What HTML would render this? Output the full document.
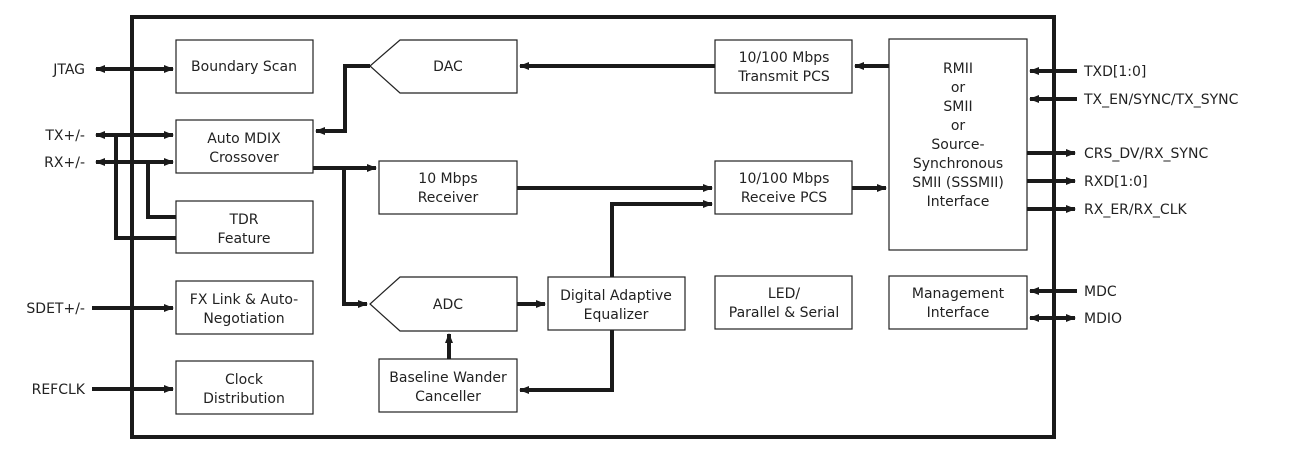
<!DOCTYPE html>
<html><head><meta charset="utf-8"><style>
html,body{margin:0;padding:0;background:#fff;}
svg{display:block;}
text{font-family:"DejaVu Sans","Liberation Sans",sans-serif;font-size:14px;fill:#222;}
</style></head><body>
<svg width="1293" height="462" viewBox="0 0 1293 462" xmlns="http://www.w3.org/2000/svg">
<defs>
<marker id="a" markerWidth="10" markerHeight="10" refX="9" refY="5" orient="auto" markerUnits="userSpaceOnUse">
<path d="M0,1 L10,5 L0,9 Z" fill="#1a1a1a"/></marker>
<marker id="s" markerWidth="10" markerHeight="10" refX="1" refY="5" orient="auto" markerUnits="userSpaceOnUse">
<path d="M10,1 L0,5 L10,9 Z" fill="#1a1a1a"/></marker>
</defs>
<rect x="132" y="17" width="922" height="420" fill="none" stroke="#1a1a1a" stroke-width="4"/>
<g fill="#fff" stroke="#222" stroke-width="1.2">
<rect x="176" y="40" width="137" height="53"/>
<rect x="176" y="120" width="137" height="53"/>
<rect x="176" y="201" width="137" height="52"/>
<rect x="176" y="281" width="137" height="53"/>
<rect x="176" y="361" width="137" height="53"/>
<path d="M400,40 H517 V93 H400 L370,66 Z"/>
<rect x="379" y="161" width="138" height="53"/>
<path d="M400,277 H517 V331 H400 L370,304 Z"/>
<rect x="379" y="359" width="138" height="53"/>
<rect x="548" y="277" width="137" height="53"/>
<rect x="715" y="40" width="137" height="53"/>
<rect x="715" y="161" width="137" height="53"/>
<rect x="715" y="276" width="137" height="53"/>
<rect x="889" y="39" width="138" height="211"/>
<rect x="889" y="276" width="138" height="53"/>
</g>
<g fill="none" stroke="#1a1a1a" stroke-width="4">
<line x1="96" y1="69" x2="173" y2="69" marker-start="url(#s)" marker-end="url(#a)"/>
<line x1="96" y1="135" x2="173" y2="135" marker-start="url(#s)" marker-end="url(#a)"/>
<line x1="96" y1="162" x2="173" y2="162" marker-start="url(#s)" marker-end="url(#a)"/>
<polyline points="116,135 116,238 176,238"/>
<polyline points="148,162 148,217 176,217"/>
<line x1="92" y1="308" x2="173" y2="308" marker-end="url(#a)"/>
<line x1="92" y1="389" x2="173" y2="389" marker-end="url(#a)"/>
<polyline points="370,66 345,66 345,131 316,131" marker-end="url(#a)"/>
<polyline points="313,168 376,168" marker-end="url(#a)"/>
<polyline points="344,168 344,304 367,304" marker-end="url(#a)"/>
<line x1="517" y1="304" x2="545" y2="304" marker-end="url(#a)"/>
<line x1="449" y1="359" x2="449" y2="334" marker-end="url(#a)"/>
<line x1="517" y1="188" x2="712" y2="188" marker-end="url(#a)"/>
<polyline points="612,277 612,204 712,204" marker-end="url(#a)"/>
<polyline points="612,330 612,390 520,390" marker-end="url(#a)"/>
<line x1="715" y1="66" x2="520" y2="66" marker-end="url(#a)"/>
<line x1="889" y1="66" x2="855" y2="66" marker-end="url(#a)"/>
<line x1="852" y1="188" x2="886" y2="188" marker-end="url(#a)"/>
<line x1="1077" y1="71" x2="1030" y2="71" marker-end="url(#a)"/>
<line x1="1077" y1="99" x2="1030" y2="99" marker-end="url(#a)"/>
<line x1="1027" y1="153" x2="1075" y2="153" marker-end="url(#a)"/>
<line x1="1027" y1="181" x2="1075" y2="181" marker-end="url(#a)"/>
<line x1="1027" y1="209" x2="1075" y2="209" marker-end="url(#a)"/>
<line x1="1077" y1="291" x2="1030" y2="291" marker-end="url(#a)"/>
<line x1="1030" y1="318" x2="1075" y2="318" marker-start="url(#s)" marker-end="url(#a)"/>
</g>
<g text-anchor="end">
<text x="85" y="74">JTAG</text>
<text x="85" y="140">TX+/-</text>
<text x="85" y="167">RX+/-</text>
<text x="85" y="313">SDET+/-</text>
<text x="85" y="394">REFCLK</text>
</g>
<g>
<text x="1084" y="76">TXD[1:0]</text>
<text x="1084" y="104">TX_EN/SYNC/TX_SYNC</text>
<text x="1084" y="158">CRS_DV/RX_SYNC</text>
<text x="1084" y="186">RXD[1:0]</text>
<text x="1084" y="214">RX_ER/RX_CLK</text>
<text x="1084" y="296">MDC</text>
<text x="1084" y="323">MDIO</text>
</g>
<g text-anchor="middle">
<text x="244" y="71">Boundary Scan</text>
<text x="244" y="143">Auto MDIX</text><text x="244" y="162">Crossover</text>
<text x="244" y="224">TDR</text><text x="244" y="243">Feature</text>
<text x="244" y="304">FX Link &amp; Auto-</text><text x="244" y="323">Negotiation</text>
<text x="244" y="384">Clock</text><text x="244" y="403">Distribution</text>
<text x="448" y="71">DAC</text>
<text x="448" y="183">10 Mbps</text><text x="448" y="202">Receiver</text>
<text x="448" y="309">ADC</text>
<text x="448" y="382">Baseline Wander</text><text x="448" y="401">Canceller</text>
<text x="616" y="300">Digital Adaptive</text><text x="616" y="319">Equalizer</text>
<text x="784" y="62">10/100 Mbps</text><text x="784" y="81">Transmit PCS</text>
<text x="784" y="183">10/100 Mbps</text><text x="784" y="202">Receive PCS</text>
<text x="784" y="298">LED/</text><text x="784" y="317">Parallel &amp; Serial</text>
<text x="958" y="73">RMII</text><text x="958" y="92">or</text><text x="958" y="111">SMII</text><text x="958" y="130">or</text>
<text x="958" y="149">Source-</text><text x="958" y="168">Synchronous</text><text x="958" y="187">SMII (SSSMII)</text><text x="958" y="206">Interface</text>
<text x="958" y="298">Management</text><text x="958" y="317">Interface</text>
</g>
</svg>
</body></html>
